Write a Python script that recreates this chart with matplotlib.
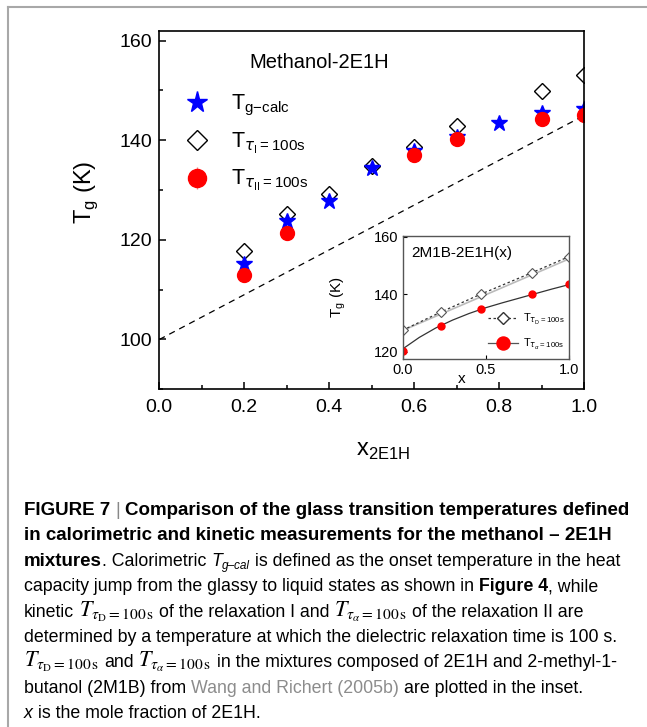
import matplotlib
matplotlib.use("Agg")
import matplotlib.pyplot as plt
from matplotlib.lines import Line2D
from matplotlib.ticker import MultipleLocator

plt.rcParams['font.family'] = ['Liberation Sans', 'DejaVu Sans']

# methanol - 2E1H mixtures
x_calc = [0.2, 0.3, 0.4, 0.5, 0.6, 0.7, 0.8, 0.9, 1.0]
tg_calc = [115.1, 123.8, 127.8, 134.4, 137.8, 140.7, 143.5, 145.4, 146.3]
x_tau1 = [0.2, 0.3, 0.4, 0.5, 0.6, 0.7, 0.9, 1.0]
tg_tau1 = [117.8, 125.1, 129.3, 134.9, 138.7, 142.8, 149.9, 153.2]
x_tau2 = [0.2, 0.3, 0.6, 0.7, 0.9, 1.0]
tg_tau2 = [113.0, 121.3, 137.1, 140.3, 144.3, 145.0]
tg_tau2_err = [1.3, 0.8, 0.3, 0.3, 0.3, 0.3]
ideal_x = [0.0, 1.0]
ideal_tg = [100.0, 145.0]

# 2M1B - 2E1H(x) inset
ins_x = [0.0, 0.23, 0.47, 0.78, 1.0]
ins_tg_d = [127.5, 133.8, 140.0, 147.5, 153.0]
ins_tg_a = [120.2, 129.1, 134.7, 140.0, 143.5]
fit_x = [0.0, 0.1, 0.2, 0.3, 0.4, 0.5, 0.6, 0.7, 0.8, 0.9, 1.0]
fit_a = [121.0, 125.0, 128.3, 131.0, 133.3, 135.3, 137.0, 138.6, 140.2, 141.8, 143.3]
lin_x = [0.0, 1.0]
lin_d = [127.4, 152.2]

W, H = 647, 727
fig = plt.figure(figsize=(W / 100, H / 100), dpi=100)

ax = fig.add_axes([159.3 / W, 1 - 389.3 / H, 425 / W, 358.6 / H])
ax.plot(ideal_x, ideal_tg, color='k', lw=0.9, ls=(0, (5, 4)))
h_tau1, = ax.plot(x_tau1, tg_tau1, 'D', ms=8, mfc='white', mec='k', mew=1.0)
h_tau2 = ax.errorbar(x_tau2, tg_tau2, yerr=tg_tau2_err, fmt='o', ms=10,
                     color='red', ecolor='#f08080', elinewidth=1, capsize=0)
h_calc, = ax.plot(x_calc, tg_calc, '*', ms=12, color='blue')

ax.set_xlim(0, 1)
ax.set_ylim(90, 162)
ax.xaxis.set_major_locator(MultipleLocator(0.2))
ax.xaxis.set_minor_locator(MultipleLocator(0.1))
ax.yaxis.set_major_locator(MultipleLocator(20))
ax.yaxis.set_minor_locator(MultipleLocator(10))
ax.tick_params(which='both', direction='in', top=False, right=False,
               labelsize=14, width=1.1)
ax.tick_params(which='major', length=5)
ax.tick_params(which='minor', length=3)
ax.tick_params(axis='x', pad=7)
ax.tick_params(axis='y', pad=5)
for s in ax.spines.values():
    s.set_linewidth(1.2)

ax.set_ylabel(r'T$_\mathregular{g}$ (K)', fontsize=17)
ax.yaxis.set_label_coords(-0.14, 0.55)
ax.set_xlabel(r'x$_\mathregular{2E1H}$', fontsize=17)
ax.xaxis.set_label_coords(0.526, -0.141)
ax.text(0.211, 0.91, 'Methanol-2E1H', transform=ax.transAxes,
        fontsize=14.5, va='center')

ax.legend([h_calc, h_tau1, h_tau2],
          [r'T$_{\mathregular{g{-}calc}}$',
           r'T$_{\tau_{\mathregular{I}}\mathregular{{=}100s}}$',
           r'T$_{\tau_{\mathregular{II}}\mathregular{{=}100s}}$'],
          loc='upper left', bbox_to_anchor=(0.058, 0.826), frameon=False,
          fontsize=15.5, markerscale=1.3, borderpad=0, borderaxespad=0,
          handlelength=1.2, handletextpad=1.0, labelspacing=0.58)

# inset
axi = fig.add_axes([402.7 / W, 1 - 359.3 / H, 166 / W, 123.6 / H])
axi.plot(lin_x, lin_d, color='#bbbbbb', lw=1.2)
axi.plot(ins_x, ins_tg_d, color='#333333', lw=0.9, ls=(0, (2, 2)),
         marker='D', ms=5, mfc='white', mec='#555555', mew=0.8)
axi.plot(fit_x, fit_a, color='#333333', lw=0.9)
axi.plot(ins_x, ins_tg_a, 'o', ms=5, color='red', ls='none')
axi.set_xlim(0, 1)
axi.set_ylim(117.4, 160.3)
axi.set_xticks([0.0, 0.5, 1.0])
axi.set_yticks([120, 140, 160])
axi.tick_params(direction='in', top=False, right=False, labelsize=10.5,
                length=3, pad=3)
for s in axi.spines.values():
    s.set_color('#555555')
    s.set_linewidth(1.0)
axi.set_ylabel(r'T$_\mathregular{g}$ (K)', fontsize=11)
axi.yaxis.set_label_coords(-0.33, 0.5)
axi.set_xlabel('x', fontsize=11)
axi.xaxis.set_label_coords(0.357, -0.1)
axi.text(0.054, 0.86, '2M1B-2E1H(x)', transform=axi.transAxes,
         fontsize=11, va='center')
hd = Line2D([], [], color='#333333', lw=0.9, ls=(0, (2, 2)), marker='D',
            ms=6.6, mfc='white', mec='#333333', mew=1.0)
ha = Line2D([], [], color='#555555', lw=0.9, marker='o', ms=9.4,
            mfc='red', mec='red')
axi.legend([hd, ha],
           [r'T$_{\tau_{\mathregular{D}}\mathregular{{=}100s}}$',
            r'T$_{\tau_{\alpha}\mathregular{{=}100s}}$'],
           loc='lower right', bbox_to_anchor=(1.0, 0.035), frameon=False,
           fontsize=8, borderpad=0.3, borderaxespad=0, handlelength=2.7,
           handletextpad=0.5, labelspacing=0.9)

# page frame
fig.add_artist(Line2D([8 / W, 8 / W], [0, 1 - 7 / H], transform=fig.transFigure,
                      color='#a8a8a8', lw=1.5))
fig.add_artist(Line2D([8 / W, 1], [1 - 7 / H, 1 - 7 / H],
                      transform=fig.transFigure, color='#a8a8a8', lw=1.5))

# caption
FB = 13.5
FS = 12.8
B = dict(fontweight='bold', fontsize=FB)
BS = dict(fontweight='bold', fontsize=FS)
N = dict(fontsize=FS)
I = dict(fontsize=FS, style='italic')
SUB = dict(fontsize=8.5, style='italic', dy=3)
LINK = dict(fontsize=FS, color='#8c8c8c')
BAR = dict(fontsize=FB, color='#888888')
M = dict(fontsize=16, math_fontfamily='stix')
TD = r'$T_{\tau_{\mathrm{D}}=100\,\mathrm{s}}$'
TA = r'$T_{\tau_{\alpha}=100\,\mathrm{s}}$'

caption = [
    [("FIGURE 7 ", B), ("| ", BAR),
     ("Comparison of the glass transition temperatures defined", B)],
    [("in calorimetric and kinetic measurements for the methanol \u2013 2E1H", B)],
    [("mixtures", B), (". Calorimetric ", N), ("T", I), ("g\u2013cal", SUB),
     (" is defined as the onset temperature in the heat", N)],
    [("capacity jump from the glassy to liquid states as shown in ", N),
     ("Figure 4", BS), (", while", N)],
    [("kinetic ", N), (TD, M), (" of the relaxation I and ", N), (TA, M),
     (" of the relaxation II are", N)],
    [("determined by a temperature at which the dielectric relaxation time is 100 s.", N)],
    [(TD, M), (" and ", N), (TA, M),
     (" in the mixtures composed of 2E1H and 2-methyl-1-", N)],
    [("butanol (2M1B) from ", N), ("Wang and Richert (2005b)", LINK),
     (" are plotted in the inset.", N)],
    [("x", I), (" is the mole fraction of 2E1H.", N)],
]

renderer = fig.canvas.get_renderer()
t1 = fig.text(0, 0, 'a a', fontsize=FS)
t2 = fig.text(0, 0, 'aa', fontsize=FS)
space_w = t1.get_window_extent(renderer).width - t2.get_window_extent(renderer).width
t1.remove()
t2.remove()


def caption_line(y_px, parts):
    x = 24.0
    for s, style in parts:
        kw = dict(style)
        dy = kw.pop('dy', 0)
        if s.startswith(' '):
            x += space_w
        t = fig.text(x / W, 1 - (y_px + dy) / H, s.strip(), ha='left',
                     va='baseline', **kw)
        x += t.get_window_extent(renderer).width
        if s.endswith(' '):
            x += space_w


for i, parts in enumerate(caption):
    caption_line(515 + 25.4 * i, parts)

fig.savefig('out.png', dpi=100)
